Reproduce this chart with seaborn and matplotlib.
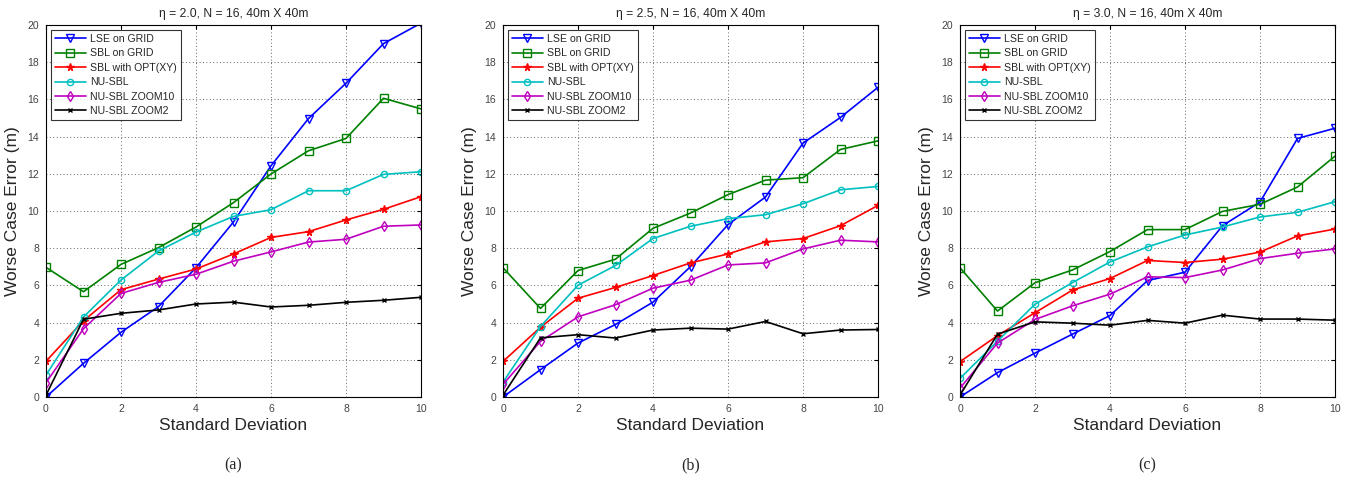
import numpy as np
import pandas as pd
import matplotlib
matplotlib.use("Agg")
import matplotlib.pyplot as plt
import seaborn as sns

sns.set_style("white")
plt.rcParams['font.family'] = ['Liberation Sans', 'DejaVu Sans']

std_dev = [0, 1, 2, 3, 4, 5, 6, 7, 8, 9, 10]
series_names = ["LSE on GRID", "SBL on GRID", "SBL with OPT(XY)", "NU-SBL",
                "NU-SBL ZOOM10", "NU-SBL ZOOM2"]
titles = ["\u03b7 = 2.0, N = 16, 40m X 40m",
          "\u03b7 = 2.5, N = 16, 40m X 40m",
          "\u03b7 = 3.0, N = 16, 40m X 40m"]
captions = ["(a)", "(b)", "(c)"]

# panel (a) eta = 2.0
lse_a = [0.0, 1.81, 3.48, 4.86, 6.95, 9.41, 12.43, 14.97, 16.87, 19.0, 20.1]
sbl_a = [6.97, 5.66, 7.13, 8.03, 9.14, 10.45, 11.99, 13.24, 13.9, 16.06, 15.49]
opt_a = [1.92, 4.1, 5.77, 6.34, 6.88, 7.69, 8.58, 8.89, 9.52, 10.09, 10.77]
nu_a = [1.18, 4.3, 6.29, 7.85, 8.87, 9.71, 10.07, 11.09, 11.09, 11.97, 12.11]
z10_a = [0.77, 3.67, 5.57, 6.16, 6.6, 7.3, 7.8, 8.33, 8.48, 9.18, 9.25]
z2_a = [0.1, 4.18, 4.5, 4.68, 5.0, 5.1, 4.84, 4.93, 5.09, 5.2, 5.36]

# panel (b) eta = 2.5
lse_b = [0.0, 1.47, 2.9, 3.9, 5.1, 7.01, 9.27, 10.75, 13.65, 15.03, 16.65]
sbl_b = [6.95, 4.76, 6.8, 7.41, 9.07, 9.89, 10.88, 11.66, 11.79, 13.31, 13.77]
opt_b = [1.91, 3.75, 5.31, 5.89, 6.53, 7.21, 7.69, 8.34, 8.52, 9.21, 10.3]
nu_b = [0.8, 3.79, 6.01, 7.07, 8.52, 9.18, 9.59, 9.8, 10.39, 11.14, 11.32]
z10_b = [0.68, 2.99, 4.31, 4.96, 5.85, 6.28, 7.1, 7.21, 7.96, 8.43, 8.34]
z2_b = [0.1, 3.18, 3.35, 3.17, 3.6, 3.7, 3.65, 4.06, 3.4, 3.6, 3.63]

# panel (c) eta = 3.0
lse_c = [0.0, 1.31, 2.36, 3.38, 4.38, 6.26, 6.71, 9.21, 10.48, 13.9, 14.45]
sbl_c = [6.95, 4.62, 6.14, 6.83, 7.82, 9.0, 9.0, 9.98, 10.36, 11.29, 12.95]
opt_c = [1.9, 3.3, 4.53, 5.75, 6.37, 7.34, 7.23, 7.41, 7.79, 8.66, 9.03]
nu_c = [1.0, 3.0, 4.99, 6.15, 7.26, 8.07, 8.71, 9.14, 9.68, 9.93, 10.5]
z10_c = [0.48, 2.9, 4.17, 4.9, 5.53, 6.46, 6.42, 6.83, 7.44, 7.73, 7.96]
z2_c = [0.1, 3.38, 4.04, 3.97, 3.86, 4.12, 3.97, 4.4, 4.19, 4.19, 4.13]

panels = [
    [lse_a, sbl_a, opt_a, nu_a, z10_a, z2_a],
    [lse_b, sbl_b, opt_b, nu_b, z10_b, z2_b],
    [lse_c, sbl_c, opt_c, nu_c, z10_c, z2_c],
]

colors = ["#0000ff", "#008000", "#ff0000", "#00bfbf", "#bf00bf", "#000000"]
markers = ["v", "s", "*", "o", "d", "x"]
filled = [False, False, True, False, False, True]
msizes = [5.5, 5.5, 5.5, 4.5, 5, 3.5]

fig = plt.figure(figsize=(13.49, 4.79), dpi=100)
W, H = 1349.0, 479.0
ax_lefts = [46, 503, 960]
ax_w = 375
ax_top = 25
ax_bot = 397

for i, data in enumerate(panels):
    ax = fig.add_axes([ax_lefts[i] / W, 1 - ax_bot / H, ax_w / W, (ax_bot - ax_top) / H])
    for name, vals, c, m, f, ms in zip(series_names, data, colors, markers, filled, msizes):
        df = pd.DataFrame({"sd": std_dev, "err": vals})
        sns.lineplot(data=df, x="sd", y="err", ax=ax, label=name, linewidth=1.2,
                     color=c, marker=m, markersize=ms, linestyle="-", dashes=False,
                     markeredgecolor=c, markerfacecolor=(c if f else "none"),
                     markeredgewidth=1.0)
    ax.set_xlim(0, 10)
    ax.set_ylim(0, 20)
    ax.set_xticks(np.arange(0, 11, 2))
    ax.set_yticks(np.arange(0, 21, 2))
    ax.grid(True, linestyle=(0, (1, 2.5)), color="#666666", linewidth=0.7)
    ax.tick_params(direction="in", length=3, pad=5, labelsize=7.5, colors="#000000",
                   labelcolor="#444444", top=True, right=True)
    for sp in ax.spines.values():
        sp.set_color("#000000")
        sp.set_linewidth(0.8)
    ax.set_xlabel("Standard Deviation", fontsize=12.5, labelpad=3)
    ax.set_ylabel("Worse Case Error (m)", fontsize=12.5, labelpad=5)
    ax.set_title(titles[i], fontsize=8.7, pad=6)
    leg = ax.legend(loc="upper left", fontsize=7.6, frameon=True, fancybox=False,
                    handlelength=2.9, handletextpad=0.4, borderpad=0.4,
                    labelspacing=0.42, bbox_to_anchor=(0.0, 1.0), borderaxespad=0.45)
    leg.get_frame().set_edgecolor("#000000")
    leg.get_frame().set_linewidth(0.8)
    cx = (ax_lefts[i] + ax_w / 2) / W
    fig.text(cx, 1 - 465 / H, captions[i], ha="center", va="center",
             fontsize=11.5, family="Liberation Serif")

fig.savefig("out.png", dpi=100)
